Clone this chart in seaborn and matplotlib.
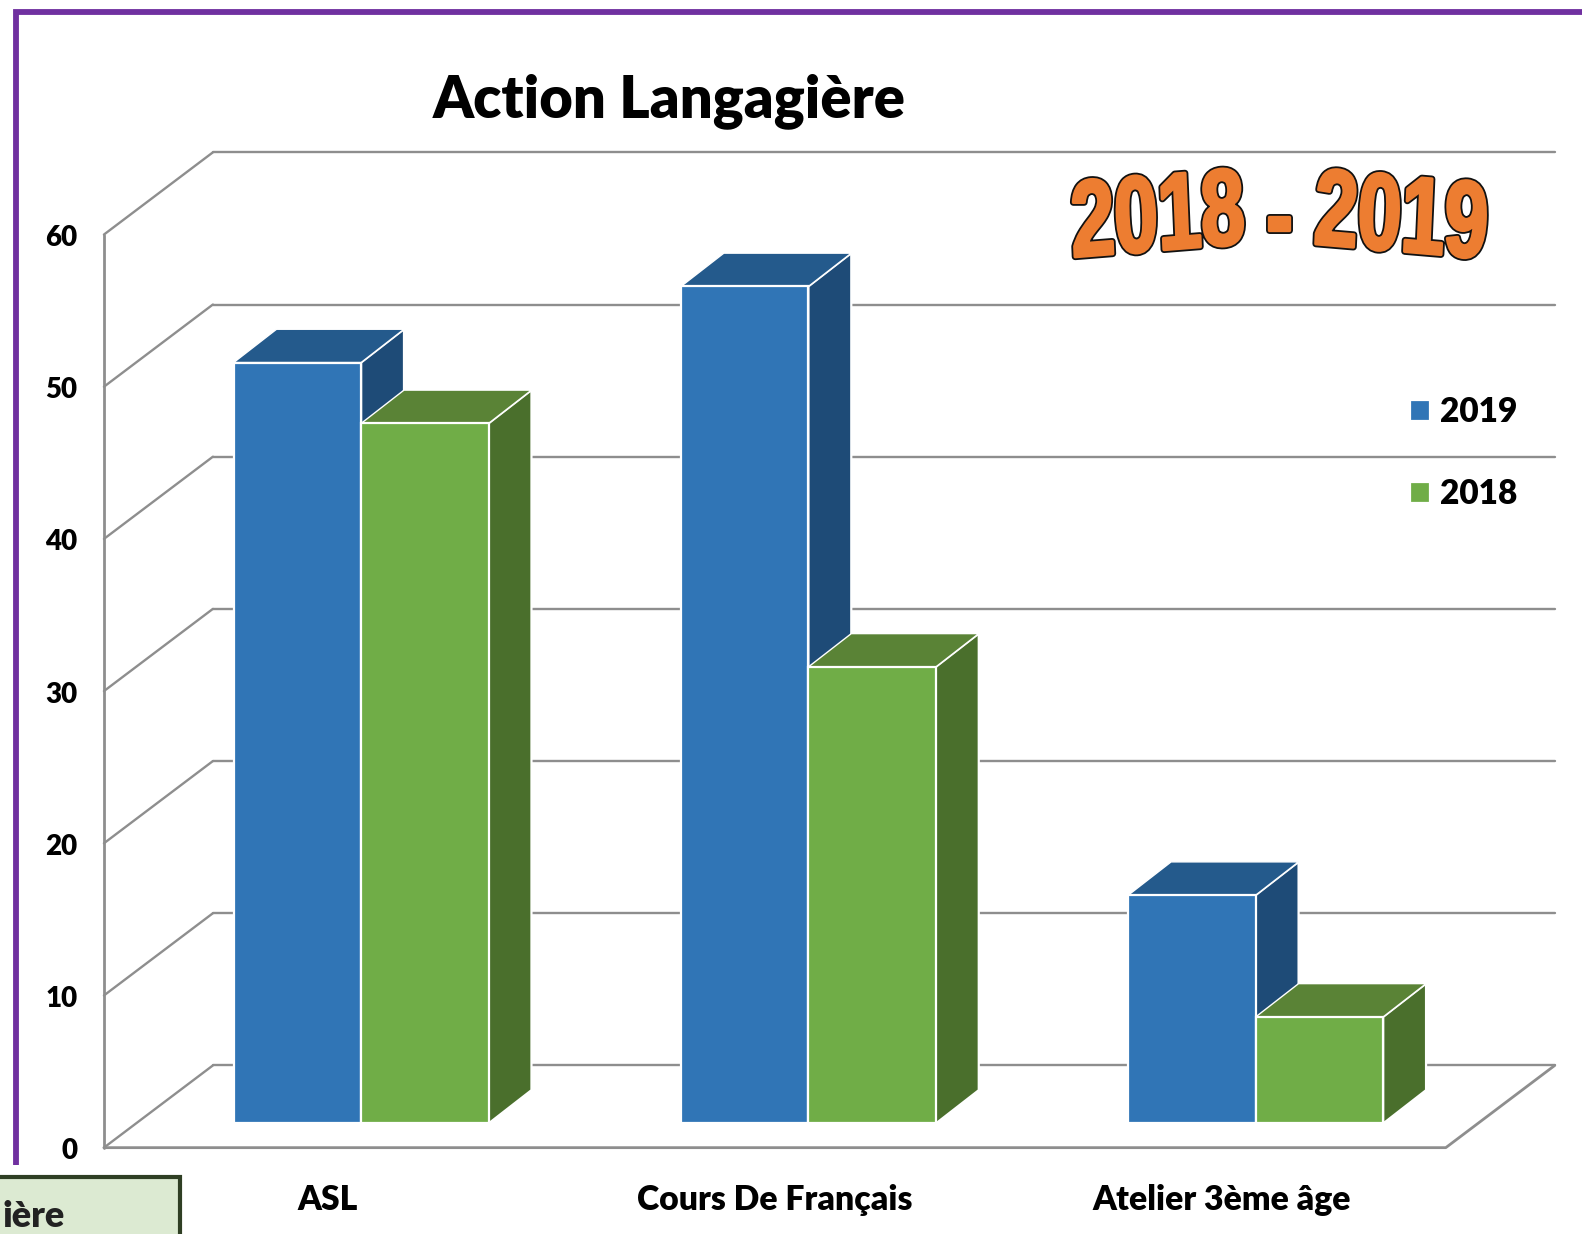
import pandas as pd
import matplotlib.pyplot as plt
import matplotlib.patheffects as pe
from matplotlib.patches import Polygon, Rectangle
from matplotlib.lines import Line2D
from matplotlib.transforms import Affine2D
import seaborn as sns

# Values
categories = ["ASL", "Cours De Français", "Atelier 3ème âge"]
values_2019 = [50, 55, 15]
values_2018 = [46, 30, 7]
y_ticks = [0, 10, 20, 30, 40, 50, 60]

colors = {"2019": "#3075B6", "2018": "#70AD47"}
side_colors = {"2019": "#1E4B77", "2018": "#4A6F2C"}
top_colors = {"2019": "#245A8C", "2018": "#5A8336"}
grid_color = "#8E8E8E"

W, H = 1582, 1234
S = W / 1568  # measured everything on the shrunk picture


class NarrowOutline(pe.AbstractPathEffect):
    # squeezes a text sideways around xc (no narrow font installed) and outlines it
    def __init__(self, xc, xscale, lw, edge):
        super().__init__()
        self.squeeze = Affine2D().translate(-xc, 0).scale(xscale, 1).translate(xc, 0)
        self.lw = lw
        self.edge = edge

    def draw_path(self, renderer, gc, tpath, affine, rgbFace=None):
        # thick dark stroke, then a thinner stroke in the fill colour to fatten the digits
        for lw, col in [(self.lw, self.edge), (self.lw - 2.6, rgbFace)]:
            gc0 = renderer.new_gc()
            gc0.copy_properties(gc)
            gc0.set_linewidth(lw)
            gc0.set_foreground(col)
            renderer.draw_path(gc0, tpath, affine + self.squeeze, rgbFace)
            gc0.restore()


sns.set_theme(style="white")
plt.rcParams["font.family"] = ["Lato", "DejaVu Sans"]
plt.rcParams["font.weight"] = "bold"

fig = plt.figure(figsize=(W / 100, H / 100), dpi=100, facecolor="white")
pix = Affine2D().scale(S, -S).translate(0, H)  # top-left pixel coords

# bars plane: x -0.5..2.5 is 136.25..1466.25, y 0..60 is 1113.5..208.5
px_x = 443.33
px_y = 905 / 60
ax = fig.add_axes([136.25 * S / W, 1 - 1113.5 * S / H, 1330 * S / W, 905 * S / H])
ax.patch.set_alpha(0)

df = pd.DataFrame({
    "cat": categories * 2,
    "year": ["2019"] * 3 + ["2018"] * 3,
    "val": values_2019 + values_2018,
})
sns.barplot(data=df, x="cat", y="val", hue="year", hue_order=["2019", "2018"],
            palette=colors, width=0.57, gap=0, saturation=1,
            edgecolor="white", linewidth=1.6, ax=ax, zorder=5)
ax.set_xlim(-0.5, 2.5)
ax.set_ylim(0, 60)
ax.set_xlabel("")
ax.set_ylabel("")
sns.despine(ax=ax, left=True, bottom=True)

# depth offsets in data units
front_dx, front_dy = -33.25 / px_x, -24 / px_y
back_dx, back_dy = 74.75 / px_x, 57.5 / px_y
bar_dx, bar_dy = 42.5 / px_x, 33 / px_y

# walls
for t in y_ticks:
    ax.plot([-0.5 + front_dx, -0.5 + back_dx], [t + front_dy, t + back_dy],
            color=grid_color, lw=1.7, clip_on=False, zorder=1)
    ax.plot([-0.5 + back_dx, 2.5 + back_dx], [t + back_dy, t + back_dy],
            color=grid_color, lw=1.7, clip_on=False, zorder=1)
ax.plot([-0.5 + front_dx] * 2, [front_dy, 60 + front_dy],
        color=grid_color, lw=2, clip_on=False, zorder=1)
ax.plot([-0.5 + front_dx, 2.5 + front_dx, 2.5 + back_dx],
        [front_dy, front_dy, back_dy],
        color=grid_color, lw=2, clip_on=False, zorder=1)

# 3D faces of each bar, taken from the seaborn rectangles
for k, (year, cont) in enumerate(zip(["2019", "2018"], ax.containers)):
    for bar in cont:
        x0, x1 = bar.get_x(), bar.get_x() + bar.get_width()
        h = bar.get_height()
        z = 3 + 2 * k
        bar.set_zorder(z + 0.5)
        ax.add_patch(Polygon([(x1, 0), (x1, h), (x1 + bar_dx, h + bar_dy), (x1 + bar_dx, bar_dy)],
                             facecolor=side_colors[year], edgecolor="white", lw=1.6,
                             clip_on=False, zorder=z, joinstyle="round"))
        ax.add_patch(Polygon([(x0, h), (x1, h), (x1 + bar_dx, h + bar_dy), (x0 + bar_dx, h + bar_dy)],
                             facecolor=top_colors[year], edgecolor="white", lw=1.0,
                             clip_on=False, zorder=z, joinstyle="round"))

# tick labels sit on the front plane
ax.set_yticks(y_ticks)
ax.tick_params(axis="y", length=0, pad=19, labelsize=20, labelcolor="black")
ax.tick_params(axis="x", length=0, pad=25.6, labelsize=24.3, labelcolor="black")
shift = Affine2D().translate(-33.25 * S, -25 * S)
for lab in ax.get_yticklabels() + ax.get_xticklabels():
    lab.set_transform(lab.get_transform() + shift)
    lab.set_fontweight("heavy")

# legend
handles, labels = ax.get_legend_handles_labels()
ax.legend(handles, labels, loc="upper left", bbox_to_anchor=(1398, 392.5),
          bbox_transform=pix, frameon=False,
          prop={"size": 24, "weight": "heavy"},
          handlelength=0.6, handleheight=0.6, handletextpad=0.3,
          labelspacing=1.5, borderpad=0, borderaxespad=0, labelcolor="black")

# title
fig.text(663.5 * S / W, 1 - 100 * S / H, "Action Langagière", fontsize=41.7, fontweight="heavy",
         color="black", ha="center", va="center")

# word art, centres in full-size pixels
for txt, xc, yc, rot in [("2018", 1158, 222, 3.3), ("-", 1279, 224, 0), ("2019", 1401, 223, -3.5)]:
    fig.text(xc / W, 1 - yc / H, txt, family="Liberation Sans", fontsize=78,
             fontweight="bold", color="#ED7D31", ha="center", va="center", rotation=rot,
             path_effects=[NarrowOutline(xc, 0.72, 5.0, "#111111")])

# purple frame
frame = "#7030A0"
fig.add_artist(Line2D([16, 16, 1568], [1155, 12, 12], color=frame, lw=4.2,
                      transform=pix, solid_joinstyle="miter", solid_capstyle="butt"))

# piece of a cell from the worksheet, bottom left
fig.add_artist(Rectangle((-5, 1167), 183.5, 70, transform=pix, facecolor="#DCEAD2",
                         edgecolor="#2F3F24", lw=3))
fig.text(64 * S / W, 1 - 1206 * S / H, "ière", fontsize=26, fontweight="heavy",
         color="#222222", ha="right", va="center")

fig.savefig("out.png", dpi=100)
